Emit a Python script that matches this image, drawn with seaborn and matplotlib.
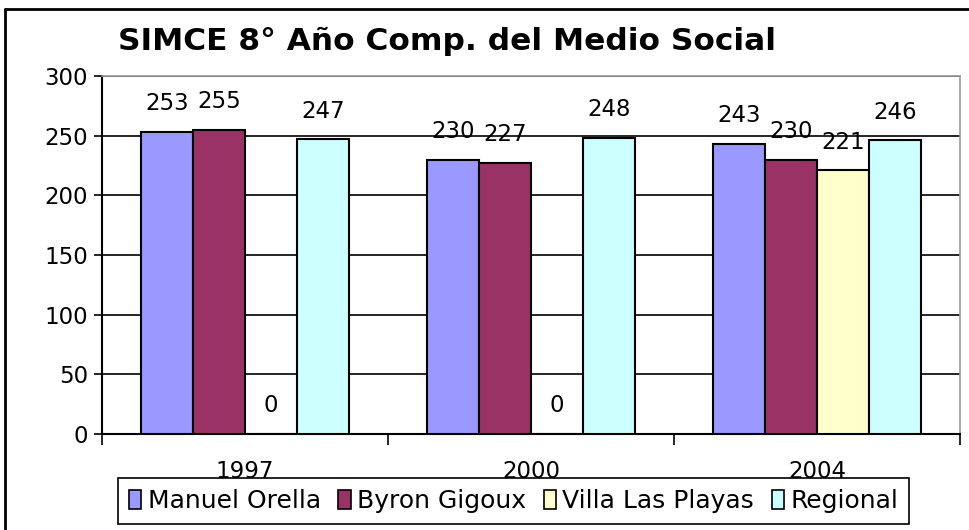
import matplotlib
matplotlib.use("Agg")
import matplotlib.pyplot as plt
import seaborn as sns
import pandas as pd
from matplotlib.patches import Patch
from matplotlib.lines import Line2D

years = ["1997", "2000", "2004"]
schools = ["Manuel Orella", "Byron Gigoux", "Villa Las Playas", "Regional"]
manuel_orella = [253, 230, 243]
byron_gigoux = [255, 227, 230]
villa_las_playas = [0, 0, 221]
regional = [247, 248, 246]
colors = ["#9999FF", "#993366", "#FFFFCC", "#CCFFFF"]

df = pd.DataFrame({
    "year": years * 4,
    "school": [s for s in schools for _ in years],
    "score": manuel_orella + byron_gigoux + villa_las_playas + regional,
})

sns.set_style("white")
plt.rcParams["font.family"] = ["DejaVu Sans"]
plt.rcParams["text.color"] = "black"
plt.rcParams["xtick.color"] = "black"
plt.rcParams["ytick.color"] = "black"
plt.rcParams["axes.labelcolor"] = "black"

fig = plt.figure(figsize=(9.69, 5.30), dpi=100)
ax = fig.add_axes([102 / 969, 96 / 530, 858 / 969, 358 / 530])

sns.barplot(data=df, x="year", y="score", hue="school", order=years,
            hue_order=schools, palette=colors, width=0.725,
            edgecolor="black", linewidth=1.5, saturation=1, ax=ax,
            legend=False, zorder=3)

for cont in ax.containers:
    ax.bar_label(cont, fmt="%d", padding=12, fontsize=16.5, color="black")

ax.set_ylim(0, 300)
ax.set_xlim(-0.5, 2.5)
ax.set_yticks(range(0, 301, 50))
ax.yaxis.grid(True, color="black", linewidth=1.2, zorder=0)
ax.set_axisbelow(True)
ax.set_xlabel("")
ax.set_ylabel("")
ax.tick_params(axis="y", labelsize=16.5, length=6, width=1.2, left=True, pad=4)
ax.tick_params(axis="x", which="major", labelsize=16.5, length=0, pad=19)
ax.set_xticks([-0.5, 0.5, 1.5, 2.5], minor=True)
ax.tick_params(axis="x", which="minor", length=8, width=1.2, bottom=True)

for side in ["top", "right"]:
    ax.spines[side].set_color("#999999")
    ax.spines[side].set_linewidth(1.2)
for side in ["left", "bottom"]:
    ax.spines[side].set_color("black")
    ax.spines[side].set_linewidth(1.5)

fig.text(0.461, 0.921, "SIMCE 8° Año Comp. del Medio Social", fontsize=22.5,
         fontweight="bold", ha="center", va="center", color="black")

handles = [Patch(facecolor=c, edgecolor="black", linewidth=1.2) for c in colors]
leg = fig.legend(handles, schools, loc="center", bbox_to_anchor=(0.530, 0.0545),
                 ncol=4, fontsize=18, frameon=True, fancybox=False,
                 handlelength=0.5, handleheight=0.75, handletextpad=0.25,
                 columnspacing=0.7, borderpad=0.45, borderaxespad=0)
leg.get_frame().set_edgecolor("black")
leg.get_frame().set_linewidth(1.2)
leg.get_frame().set_facecolor("white")
leg.get_frame().set_alpha(1)

fig.add_artist(Line2D([5 / 969, 5 / 969], [0, 521 / 530], color="black",
                      linewidth=2, transform=fig.transFigure))
fig.add_artist(Line2D([5 / 969, 1], [521 / 530, 521 / 530], color="black",
                      linewidth=2, transform=fig.transFigure))

fig.savefig("out.png", dpi=100)
